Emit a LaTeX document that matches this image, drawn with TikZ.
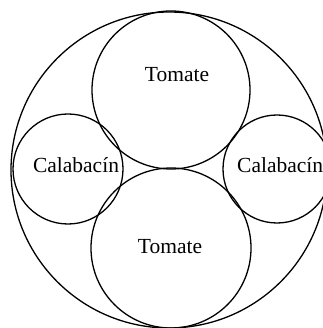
\documentclass[tikz,border=0pt]{standalone}
\usepackage{fontspec}
\setmainfont{Liberation Serif}
\begin{document}
\begin{tikzpicture}[x=1pt,y=-1pt,
  ring/.style={draw=black,circle,line width=1.3pt,inner sep=0pt},
  lbl/.style={font=\fontsize{21.5}{24}\selectfont,inner sep=0pt,anchor=center}]
\useasboundingbox (0,0) rectangle (322,328);
\node[ring,minimum size=316pt] (outer) at (169,170) {};
\node[ring,minimum size=158pt] (top) at (171,90) {};
\node[ring,minimum size=160pt] (bottom) at (171,248) {};
\node[ring,minimum size=110pt] (left) at (68,169) {};
\node[ring,minimum size=108pt] (right) at (277,169) {};
\node[lbl] (tt) at (177,75) {Tomate};
\node[lbl] (tb) at (170,247) {Tomate};
\node[lbl] (cl) at (76,165) {Calabacín};
\node[lbl,anchor=west] (cr) at (237,165) {Calabacín};
\end{tikzpicture}
\end{document}
